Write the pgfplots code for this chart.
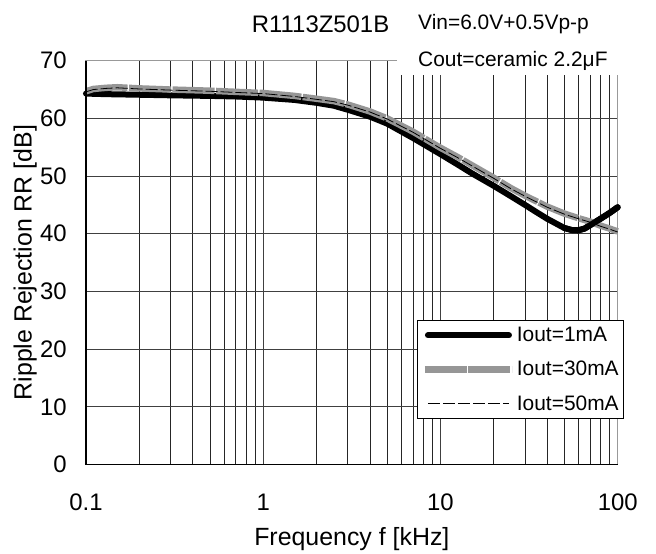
\documentclass[border=0pt]{standalone}
\usepackage{pgfplots}
\pgfplotsset{compat=1.18}
\usepackage{fontspec}
\setmainfont{Liberation Sans}
\definecolor{band}{RGB}{150,150,150}
\definecolor{thin}{RGB}{110,110,110}
\pgfplotsset{
  shortlegend/.style={legend image code/.code={\draw[##1] (3bp,0bp) -- (84bp,0bp);}},
}
\begin{document}
\begin{tikzpicture}
\begin{axis}[
  scale only axis, width=531.7bp, height=403.8bp,
  xmode=log, xmin=0.1, xmax=100, ymin=0, ymax=70,
  xtick={0.1,1,10,100}, xticklabels={0.1,1,10,100},
  minor xtick={0.2,0.3,0.4,0.5,0.6,0.7,0.8,0.9,2,3,4,5,6,7,8,9,20,30,40,50,60,70,80,90},
  ytick={0,10,20,30,40,50,60,70},
  xmajorgrids, xminorgrids, ymajorgrids,
  major grid style={black!75, line width=0.8bp},
  minor grid style={black!85, line width=0.7bp},
  tick style={draw=none},
  axis line style={gray!80, line width=1.2bp},
  /pgf/number format/assume math mode=true,
  tick label style={font=\fontsize{24}{28}\selectfont, inner sep=0pt},
  xticklabel style={anchor=base, yshift=-45.5bp},
  yticklabel style={anchor=east, xshift=-19bp},
  xlabel={Frequency f [kHz]}, ylabel={Ripple Rejection RR [dB]},
  every axis x label/.style={at={([yshift=-80.5bp]axis description cs:0.5,0)}, anchor=base, font=\fontsize{25}{30}\selectfont, inner sep=0pt},
  every axis y label/.style={at={([xshift=-54.3bp]axis description cs:0,0.5)}, rotate=90, anchor=base, font=\fontsize{25}{30}\selectfont, inner sep=0pt},
  legend style={at={(axis description cs:0.6231,0.3578)}, anchor=north west, draw=black, line width=0.8bp,
    font=\fontsize{21}{25}\selectfont, inner xsep=4bp, inner ysep=6bp, row sep=16bp, column sep=0.7bp,
    nodes={inner sep=1bp}},
  legend cell align=left,
  legend image code/.code={\draw[#1] (0bp,0bp) -- (87bp,0bp);},
  clip=false,
]
\addplot[black, line width=6bp, line cap=round, line join=round, shortlegend] coordinates {
(0.1,64.3)(0.13,64.2)(0.2,64.1)(0.3,64.0)(0.5,63.9)(0.7,63.8)(1,63.6)(1.5,63.2)(2,62.7)(2.5,62.2)(3,61.5)(4,60.3)(5,59.1)(7,56.6)(10,53.8)(12.5,52.0)(15,50.5)(20,48.3)(25,46.5)(30,45.0)(35,43.7)(40,42.6)(50,41.0)(55,40.65)(60,40.6)(65,40.9)(70,41.5)(80,42.6)(90,43.6)(100,44.6)};
\addlegendentry{Iout=1mA}
\addplot[band, line width=6.5bp, dash pattern=on 42bp off 1.5bp] coordinates {
(0.1,64.7)(0.11,65.1)(0.13,65.3)(0.15,65.4)(0.2,65.2)(0.3,65.0)(0.5,64.8)(0.7,64.6)(1,64.4)(1.5,63.9)(2,63.4)(2.5,63.0)(3,62.4)(4,61.2)(5,60.0)(7,57.7)(10,54.9)(12.5,53.3)(15,51.9)(20,49.7)(25,47.9)(30,46.6)(40,44.7)(50,43.5)(60,42.7)(70,42.1)(80,41.4)(90,40.9)(100,40.4)};
\addlegendentry{Iout=30mA}
\addplot[thin, line width=0.8bp, dash pattern=on 12bp off 3bp, shortlegend] coordinates {
(0.1,64.6)(0.11,65.0)(0.13,65.2)(0.15,65.3)(0.2,65.1)(0.3,64.9)(0.5,64.7)(0.7,64.5)(1,64.3)(1.5,63.8)(2,63.3)(2.5,62.9)(3,62.3)(4,61.1)(5,59.9)(7,57.6)(10,54.8)(12.5,53.2)(15,51.8)(20,49.6)(25,47.8)(30,46.5)(40,44.6)(50,43.4)(60,42.6)(70,42.0)(80,41.3)(90,40.8)(100,40.3)};
\addlegendentry{Iout=50mA}
\addplot[black, line width=6bp, line cap=round, line join=round, forget plot] coordinates {
(50,41.0)(55,40.65)(60,40.6)(65,40.9)(70,41.5)(80,42.6)(90,43.6)(100,44.6)};
\draw[black, line width=1.2bp] (rel axis cs:0,1) -- (rel axis cs:0,0) -- (rel axis cs:1,0);
\coordinate (O) at (rel axis cs:0,0);
\end{axis}
\fill[white] ([shift={(311bp,389.5bp)}]O) rectangle ([shift={(545bp,424bp)}]O);
\node[anchor=base west, inner sep=0pt, font=\fontsize{24}{28}\selectfont] at ([shift={(165.7bp,431.8bp)}]O) {R1113Z501B};
\node[anchor=base west, inner sep=0pt, font=\fontsize{21}{25}\selectfont] at ([shift={(332bp,434.5bp)}]O) {Vin=6.0V+0.5Vp-p};
\node[anchor=base west, inner sep=0pt, font=\fontsize{21}{25}\selectfont] at ([shift={(332bp,397.8bp)}]O) {Cout=ceramic 2.2μF};
\pgfresetboundingbox
\path ([shift={(-86bp,-89.5bp)}]O) rectangle ([shift={(570bp,464.5bp)}]O);
\end{tikzpicture}
\end{document}
